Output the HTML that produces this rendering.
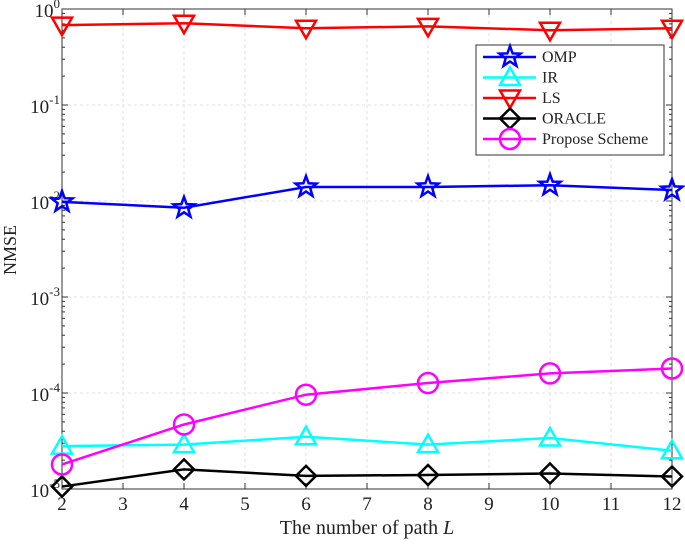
<!DOCTYPE html>
<html><head><meta charset="utf-8"><style>
body{margin:0;background:#fff;}
svg text{font-family:"Liberation Serif",serif;fill:#222;}
</style></head><body>
<svg id="c" width="685" height="542" xmlns="http://www.w3.org/2000/svg"></svg>
<script>
const xValues=[2,4,6,8,10,12];
const omp=[0.0098,0.0085,0.014,0.014,0.0146,0.013];
const ir=[2.8e-5,2.9e-5,3.5e-5,2.9e-5,3.4e-5,2.5e-5];
const ls=[0.68,0.71,0.63,0.66,0.6,0.63];
const oracle=[1.06e-5,1.6e-5,1.37e-5,1.4e-5,1.45e-5,1.35e-5];
const propose=[1.8e-5,4.7e-5,9.6e-5,1.27e-4,1.6e-4,1.8e-4];
const xTicks=[2,3,4,5,6,7,8,9,10,11,12];
const yExps=[0,-1,-2,-3,-4,-5];

const L=62,R=672,T=9,B=489;
const NS="http://www.w3.org/2000/svg";
const svg=document.getElementById('c');
const xs=v=>L+(v-2)/10*(R-L);
const ys=v=>T+(-Math.log10(v))/5*(B-T);
function el(tag,attrs,parent){const e=document.createElementNS(NS,tag);for(const k in attrs)e.setAttribute(k,attrs[k]);(parent||svg).appendChild(e);return e;}

const grid=el('g',{});


xTicks.forEach(t=>{el('line',{x1:xs(t),x2:xs(t),y1:T,y2:B,stroke:'#e2e2e2','stroke-dasharray':'3,3'},grid);});
yExps.forEach(e=>{el('line',{x1:L,x2:R,y1:ys(Math.pow(10,e)),y2:ys(Math.pow(10,e)),stroke:'#e2e2e2','stroke-dasharray':'3,3'},grid);});
const box=el('rect',{x:L,y:T,width:R-L,height:B-T,fill:'none',stroke:'#333','stroke-width':1});


xTicks.forEach(t=>{
 el('line',{x1:xs(t),x2:xs(t),y1:B,y2:B-6,stroke:'#333'});
 el('line',{x1:xs(t),x2:xs(t),y1:T,y2:T+6,stroke:'#333'});
 const tx=el('text',{x:xs(t),y:B+21,'text-anchor':'middle','font-size':19});tx.textContent=t;
 
 
});
yExps.forEach(e=>{
 const y=ys(Math.pow(10,e));
 el('line',{x1:L,x2:L+6,y1:y,y2:y,stroke:'#333'});
 el('line',{x1:R,x2:R-6,y1:y,y2:y,stroke:'#333'});
 if(e>-5){for(let m=2;m<10;m++){const yy=ys(m*Math.pow(10,e-1));el('line',{x1:L,x2:L+3,y1:yy,y2:yy,stroke:'#333'});el('line',{x1:R,x2:R-3,y1:yy,y2:yy,stroke:'#333'});}}
 const tx=el('text',{x:L-2,y:y+8,'text-anchor':'end','font-size':19});
 tx.innerHTML='10<tspan dy="-9" font-size="13">'+e+'</tspan>';
 
 
});
const xl=el('text',{x:367,y:534,'text-anchor':'middle','font-size':20});
xl.innerHTML='The number of path <tspan font-style="italic">L</tspan>';


const yl=el('text',{x:0,y:0,'text-anchor':'middle','font-size':18,transform:'translate(16,250) rotate(-90)'});
yl.textContent='NMSE';



function marker(type,x,y,color,g){
 const s=10;
 if(type==='star'){let p=[];for(let i=0;i<10;i++){const r=i%2?s*0.45:s*1.1;const a=-Math.PI/2+i*Math.PI/5;p.push((x+r*Math.cos(a)).toFixed(1)+','+(y+r*Math.sin(a)).toFixed(1));}el('polygon',{points:p.join(' '),fill:'none',stroke:color,'stroke-width':2.5},g);}
 if(type==='tri')el('polygon',{points:`${x},${y-s} ${x-s},${y+s*0.75} ${x+s},${y+s*0.75}`,fill:'none',stroke:color,'stroke-width':2.5},g);
 if(type==='itri')el('polygon',{points:`${x},${y+s} ${x-s},${y-s*0.75} ${x+s},${y-s*0.75}`,fill:'none',stroke:color,'stroke-width':2.5},g);
 if(type==='dia')el('polygon',{points:`${x},${y-s} ${x+s},${y} ${x},${y+s} ${x-s},${y}`,fill:'none',stroke:color,'stroke-width':2.5},g);
 if(type==='circ')el('circle',{cx:x,cy:y,r:s,fill:'none',stroke:color,'stroke-width':2.5},g);
}
const series=[
 {name:'OMP',d:omp,c:'#0000ff',m:'star',id:'omp'},
 {name:'IR',d:ir,c:'#00ffff',m:'tri',id:'ir'},
 {name:'LS',d:ls,c:'#ff0000',m:'itri',id:'ls'},
 {name:'ORACLE',d:oracle,c:'#000000',m:'dia',id:'oracle'},
 {name:'Propose Scheme',d:propose,c:'#ff00ff',m:'circ',id:'propose'}];
series.forEach(s=>{
 const g=el('g',{});
 
 
 el('polyline',{points:s.d.map((v,i)=>xs(xValues[i])+','+ys(v)).join(' '),fill:'none',stroke:s.c,'stroke-width':2.5},g);
 s.d.forEach((v,i)=>marker(s.m,xs(xValues[i]),ys(v),s.c,g));
});
const lg=el('g',{});


el('rect',{x:476,y:45,width:188,height:110,fill:'#fff',stroke:'#333'},lg);
series.forEach((s,i)=>{
 const y=57+i*20.5;
 const e=el('g',{},lg);
 
 
 el('line',{x1:483,x2:536,y1:y,y2:y,stroke:s.c,'stroke-width':2.5},e);
 marker(s.m,510,y,s.c,e);
 const t=el('text',{x:542,y:y+5,'font-size':16},e);t.textContent=s.name;
});
</script>
</body></html>
